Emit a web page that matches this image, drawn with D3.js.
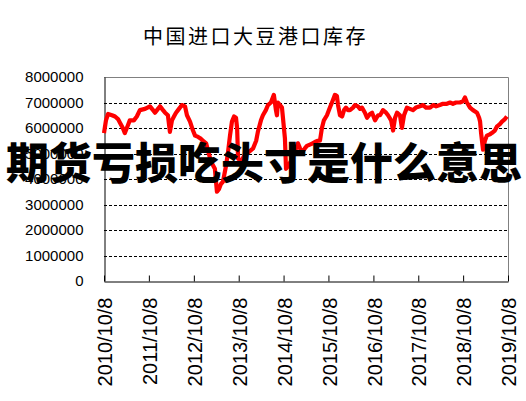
<!DOCTYPE html>
<html>
<head>
<meta charset="utf-8">
<script src="https://cdn.jsdelivr.net/npm/d3@7"></script>
<style>
  body { margin: 0; background: #fff; }
  svg { display: block; }
</style>
</head>
<body>
<div id="chart"></div>
<script>
// 中国进口大豆港口库存 (tonnes)
var dates = [
  "2010-10-08","2010-10-24","2010-11-10","2010-12-12","2011-01-06","2011-01-30","2011-02-16","2011-03-10",
  "2011-03-26","2011-04-20","2011-05-06","2011-06-08","2011-07-02","2011-07-27","2011-09-07","2011-10-17",
  "2011-11-11","2011-11-27","2011-12-21","2012-01-07","2012-01-31","2012-02-17","2012-03-11","2012-03-27",
  "2012-04-13","2012-04-29","2012-05-16","2012-06-09","2012-07-03","2012-07-28","2012-08-13","2012-09-07",
  "2012-10-01","2012-10-18","2012-11-12","2012-11-28","2012-12-22","2013-01-16","2013-02-01","2013-02-18",
  "2013-03-06","2013-03-28","2013-04-14","2013-04-30","2013-05-16","2013-06-02","2013-06-26","2013-07-13",
  "2013-07-29","2013-08-14","2013-08-31","2013-09-16","2013-09-25","2013-10-03","2013-10-27","2013-11-21",
  "2013-12-15","2014-01-09","2014-02-02","2014-02-27","2014-03-13","2014-04-07","2014-04-23","2014-05-17",
  "2014-06-03","2014-06-27","2014-07-21","2014-08-07","2014-08-15","2014-08-23","2014-09-09","2014-09-25",
  "2014-10-03","2014-10-19","2014-10-28","2014-11-13","2014-12-07","2014-12-24","2015-01-17","2015-02-02",
  "2015-02-19","2015-03-07","2015-03-30","2015-04-16","2015-05-10","2015-06-04","2015-06-20","2015-07-14",
  "2015-07-31","2015-08-16","2015-09-01","2015-09-26","2015-10-20","2015-11-06","2015-11-30","2015-12-16",
  "2015-12-25","2016-01-10","2016-01-27","2016-02-12","2016-02-28","2016-03-15","2016-03-31","2016-04-25",
  "2016-05-11","2016-06-04","2016-06-21","2016-07-07","2016-07-31","2016-08-17","2016-09-10","2016-09-27",
  "2016-10-21","2016-11-15","2016-12-01","2016-12-25","2017-01-19","2017-02-04","2017-03-01","2017-03-17",
  "2017-04-02","2017-04-18","2017-05-12","2017-05-28","2017-06-14","2017-07-08","2017-08-01","2017-08-26",
  "2017-09-19","2017-10-22","2017-11-16","2017-12-10","2018-01-12","2018-02-06","2018-03-02","2018-04-02",
  "2018-04-27","2018-05-29","2018-06-23","2018-07-17","2018-08-11","2018-09-12","2018-10-07","2018-10-23",
  "2018-11-08","2018-12-03","2018-12-27","2019-01-29","2019-02-15","2019-02-23","2019-03-03","2019-03-19",
  "2019-04-03","2019-04-19","2019-05-13","2019-05-29","2019-06-23","2019-07-09","2019-08-03","2019-08-20",
  "2019-09-13","2019-09-29"
];
var stock = [
  5800000,6300000,6550000,6500000,6450000,6350000,6200000,6000000,
  5800000,6100000,6300000,6300000,6450000,6700000,6750000,6850000,
  6700000,6600000,6750000,6850000,6700000,6600000,6500000,5850000,
  6300000,6450000,6600000,6750000,6900000,6850000,6500000,6250000,
  5900000,5700000,5650000,5600000,5500000,5400000,5100000,4800000,
  4600000,4400000,3500000,3600000,3800000,3900000,4500000,5050000,
  5700000,6250000,6450000,6400000,6000000,4800000,4700000,4900000,
  5000000,5100000,5200000,5500000,5850000,6300000,6500000,6700000,
  6900000,7000000,7300000,6700000,6500000,7000000,6900000,6800000,
  6400000,5600000,4400000,4500000,4700000,4900000,5200000,5400000,
  5200000,5050000,5200000,5300000,5350000,5400000,5450000,5500000,
  5500000,6000000,6300000,6500000,6800000,7000000,7300000,7250000,
  6900000,6500000,6450000,6700000,6800000,6700000,6700000,6800000,
  6900000,6850000,6750000,6800000,6600000,6400000,6550000,6600000,
  6300000,6500000,6500000,6700000,6600000,6500000,6300000,5900000,
  6400000,6600000,6500000,6000000,6500000,6800000,6750000,6700000,
  6800000,6850000,6900000,6800000,6800000,6900000,6850000,6900000,
  6950000,6950000,7000000,6950000,7000000,7000000,7050000,7200000,
  7000000,6800000,6700000,6600000,6400000,6250000,5800000,5150000,
  5500000,5700000,5750000,5800000,5900000,6050000,6150000,6250000,
  6350000,6450000
];
var tickDates = ["2010-10-08","2011-10-08","2012-10-08","2013-10-08","2014-10-08",
  "2015-10-08","2016-10-08","2017-10-08","2018-10-08","2019-10-08"];
var tickLabels = ["2010/10/8","2011/10/8","2012/10/8","2013/10/8","2014/10/8",
  "2015/10/8","2016/10/8","2017/10/8","2018/10/8","2019/10/8"];
var yTicks = [0,1000000,2000000,3000000,4000000,5000000,6000000,7000000,8000000];

var title = "中国进口大豆港口库存";
var overlay = "期货亏损吃头寸是什么意思";

(function() {
  var W = 526, H = 401;
  var m = {left: 104, right: 508, top: 77, bottom: 281};

  var parse = d3.timeParse("%Y-%m-%d");
  var data = dates.map(function(d, i) { return {date: parse(d), value: stock[i]}; });

  var svg = d3.select("#chart").append("svg")
    .attr("width", W).attr("height", H);

  var x = d3.scaleTime()
    .domain([parse(tickDates[0]), parse(tickDates[tickDates.length - 1])])
    .range([m.left, m.right]);
  var y = d3.scaleLinear().domain([0, 8000000]).range([m.bottom, m.top]);

  // dashed grid lines
  svg.append("g")
    .selectAll("line")
    .data(yTicks.filter(function(v) { return v > 0 && v < 8000000; }))
    .enter().append("line")
      .attr("x1", m.left).attr("x2", m.right)
      .attr("y1", function(d) { return Math.round(y(d)) + 0.5; })
      .attr("y2", function(d) { return Math.round(y(d)) + 0.5; })
      .attr("stroke", "#000")
      .attr("stroke-width", 1)
      .attr("stroke-dasharray", "3,2");

  // grey frame on top and right
  svg.append("path")
    .attr("d", "M" + m.left + "," + (m.top + 0.5) + "H" + (m.right + 0.5) + "V" + m.bottom)
    .attr("fill", "none")
    .attr("stroke", "#808080");

  // y axis
  var yAxis = svg.append("g")
    .attr("transform", "translate(" + (m.left + 0.5) + ",0)")
    .call(d3.axisLeft(y).tickValues(yTicks).tickSize(0).tickPadding(21)
      .tickFormat(function(d) { return String(d); }));
  yAxis.select(".domain").attr("stroke", "#000");
  yAxis.selectAll("text")
    .style("font-family", "'Liberation Sans', Arial, sans-serif")
    .style("font-size", "15px")
    .attr("fill", "#000");

  // x axis with inward ticks
  var xAxis = svg.append("g")
    .attr("transform", "translate(0," + (m.bottom + 0.5) + ")")
    .call(d3.axisBottom(x).tickValues(tickDates.map(parse)).tickSizeInner(-6).tickSizeOuter(0)
      .tickFormat(function(d, i) { return tickLabels[i]; }));
  xAxis.select(".domain").attr("stroke", "#000");
  xAxis.selectAll(".tick line").attr("stroke", "#000");
  xAxis.selectAll("text")
    .style("font-family", "'Liberation Sans', Arial, sans-serif")
    .style("font-size", "20px")
    .attr("fill", "#000")
    .attr("text-anchor", "end")
    .attr("transform", "translate(0,16) rotate(-90)")
    .attr("x", 0).attr("y", 0).attr("dy", "0.38em");

  // stock line
  var line = d3.line()
    .x(function(d) { return x(d.date); })
    .y(function(d) { return y(d.value); });

  svg.append("path")
    .datum(data)
    .attr("d", line)
    .attr("fill", "none")
    .attr("stroke", "#ff0000")
    .attr("stroke-width", 4.2)
    .attr("stroke-linejoin", "round");

  // title
  svg.append("text")
    .attr("x", 143).attr("y", 44)
    .style("font-family", "'Noto Sans CJK SC', sans-serif")
    .style("font-size", "20px")
    .style("letter-spacing", "2.5px")
    .attr("fill", "#000")
    .text(title);

  // big overlay caption
  svg.append("text")
    .attr("x", 6).attr("y", 179)
    .style("font-family", "'Noto Sans CJK SC', sans-serif")
    .style("font-size", "43px")
    .style("font-weight", 900)
    .attr("fill", "#000")
    .text(overlay);
})();
</script>
</body>
</html>
